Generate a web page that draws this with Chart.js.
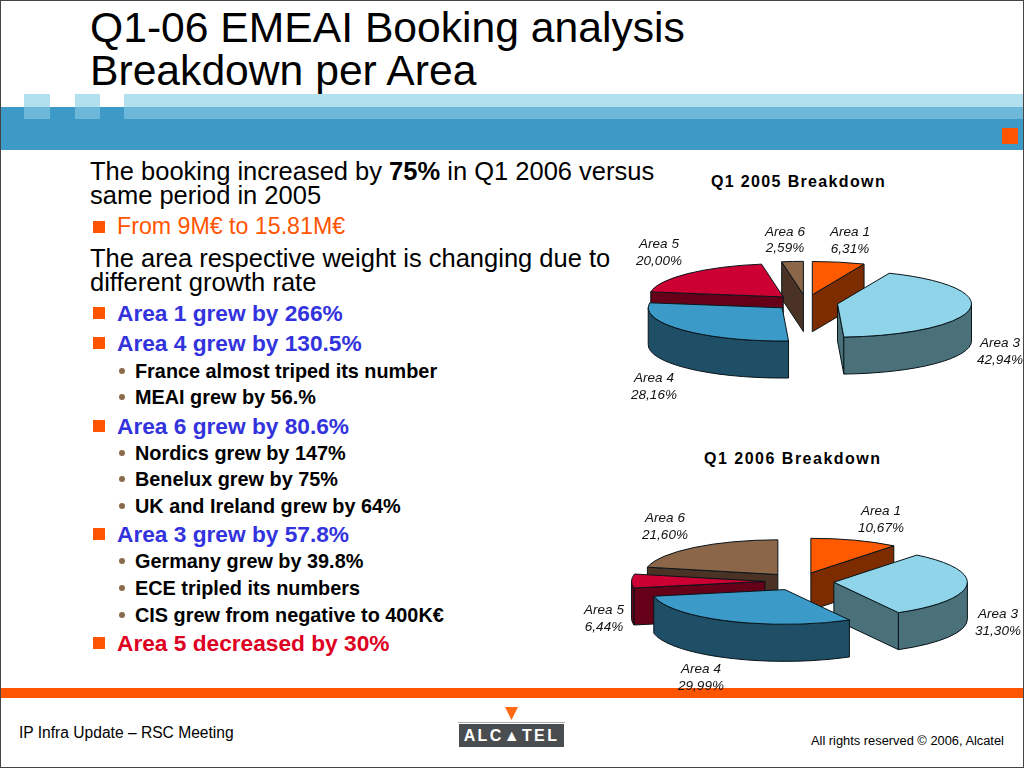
<!DOCTYPE html>
<html><head><meta charset="utf-8">
<script src="https://cdn.jsdelivr.net/npm/chart.js@4"></script>
<style>
html,body{margin:0;padding:0;background:#fff;width:1024px;height:768px;overflow:hidden;font-family:"Liberation Sans",Arial,sans-serif;}
#slide{position:relative;width:1024px;height:768px;overflow:hidden;}
.r{position:absolute;}
.t{position:absolute;white-space:nowrap;line-height:1;transform:translateY(-50%);color:#000;}
canvas{position:absolute;}
</style></head><body>
<div id="slide">
<div class="r" style="left:0;top:107px;width:1024px;height:43px;background:#3d9ac6"></div>
<div class="r" style="left:24px;top:94px;width:26px;height:13px;background:#b3e0ee"></div>
<div class="r" style="left:75px;top:94px;width:25px;height:13px;background:#b3e0ee"></div>
<div class="r" style="left:124px;top:94px;width:900px;height:13px;background:#b3e0ee"></div>
<div class="r" style="left:24px;top:107px;width:26px;height:12px;background:#6db8d8"></div>
<div class="r" style="left:75px;top:107px;width:25px;height:12px;background:#6db8d8"></div>
<div class="r" style="left:124px;top:107px;width:900px;height:12px;background:#6db8d8"></div>
<div class="r" style="left:1002px;top:128px;width:16px;height:16px;background:#ff5500"></div>
<div class="r" style="left:0;top:688px;width:1024px;height:10px;background:#ff5500"></div>
<div class="r" style="left:0;top:0;width:1022px;height:766px;border:1px solid #444"></div>

<div class="t" style="left:90px;top:27px;font-size:42.65px">Q1-06 EMEAI Booking analysis</div>
<div class="t" style="left:90px;top:70px;font-size:42.65px">Breakdown per Area</div>

<div id="body"></div>

<div class="t" style="left:711px;top:182px;font-size:16px;font-weight:bold;letter-spacing:1.35px">Q1 2005 Breakdown</div>
<div class="t" style="left:704px;top:459px;font-size:16px;font-weight:bold;letter-spacing:1.5px">Q1 2006 Breakdown</div>

<div class="t" style="left:19px;top:733px;font-size:15.6px">IP Infra Update – RSC Meeting</div>
<div class="t" style="left:811px;top:741px;font-size:12.85px">All rights reserved © 2006, Alcatel</div>
<svg class="r" style="left:505px;top:707px" width="14" height="13"><polygon points="0,0 13,0 6.5,13" fill="#ff6a13"/></svg>
<div class="r" style="left:458px;top:722px;width:107px;height:1px;background:#aaa"></div>
<div class="r" style="left:459px;top:724px;width:105px;height:23px;background:#4a4d50;color:#fff;font-weight:bold;font-size:16px;letter-spacing:2.4px;line-height:24px;text-align:center;white-space:nowrap">ALC▲TEL</div>

<canvas id="pie2005" width="436" height="275" style="left:588px;top:165px;width:436px;height:275px"></canvas>
<canvas id="pie2006" width="449" height="243" style="left:575px;top:460px;width:449px;height:243px"></canvas>
</div>
<script>
// ---- data ----
const categories2005 = ['Area 1','Area 3','Area 4','Area 5','Area 6'];
const values2005 = [6.31, 42.94, 28.16, 20.00, 2.59];
const categories2006 = ['Area 1','Area 3','Area 4','Area 5','Area 6'];
const values2006 = [10.67, 31.30, 29.99, 6.44, 21.60];

// ---- style ----
const topColors = {'Area 1':'#ff5a00','Area 3':'#8fd4e8','Area 4':'#3b9ac8','Area 5':'#cc0033','Area 6':'#8c6648'};
const wallColors = {'Area 1':'#7d2c00','Area 3':'#4a717a','Area 4':'#1f4f66','Area 5':'#660019','Area 6':'#4a3324'};

// ---- slide body text ----
const bodyLines = [
 [90,172,25.5,'#000',400,'The booking increased by <b>75%</b> in Q1 2006 versus',0],
 [90,196,25.5,'#000',400,'same period in 2005',0],
 [117,227,23.2,'#ff5500',400,'From 9M€ to 15.81M€',1],
 [90,259,25.5,'#000',400,'The area respective weight is changing due to',0],
 [90,283,25.5,'#000',400,'different growth rate',0],
 [117,313,22.7,'#3333dd',700,'Area 1 grew by 266%',1],
 [117,343,22.7,'#3333dd',700,'Area 4 grew by 130.5%',1],
 [135,372,19.85,'#000',700,'France almost triped its number',2],
 [135,398,19.85,'#000',700,'MEAI grew by 56.%',2],
 [117,426,22.7,'#3333dd',700,'Area 6 grew by 80.6%',1],
 [135,454,19.85,'#000',700,'Nordics grew by 147%',2],
 [135,480,19.85,'#000',700,'Benelux grew by 75%',2],
 [135,507,19.85,'#000',700,'UK and Ireland grew by 64%',2],
 [117,534,22.7,'#3333dd',700,'Area 3 grew by 57.8%',1],
 [135,562,19.85,'#000',700,'Germany grew by 39.8%',2],
 [135,589,19.85,'#000',700,'ECE tripled its numbers',2],
 [135,616,19.85,'#000',700,'CIS grew from negative to 400K€',2],
 [117,643,22.7,'#dd0022',700,'Area 5 decreased by 30%',1]
];
const bodyEl = document.getElementById('body');
bodyLines.forEach(function(l){
  let html = '';
  if (l[6] === 1) html += '<div class="r" style="left:93px;top:'+(l[1]-6)+'px;width:12px;height:12px;background:#ff5500"></div>';
  if (l[6] === 2) html += '<div class="r" style="left:119px;top:'+(l[1]-4)+'px;width:6px;height:6px;border-radius:50%;background:#8a6a4a"></div>';
  html += '<div class="t" style="left:'+l[0]+'px;top:'+l[1]+'px;font-size:'+l[2]+'px;color:'+l[3]+';font-weight:'+l[4]+'">'+l[5]+'</div>';
  bodyEl.insertAdjacentHTML('beforeend', html);
});

// ---- exploded 3D pie drawn from the library's arc elements ----
const pie3d = {
  id:'pie3d',
  beforeDatasetsDraw(chart, args, opts){
    const ctx = chart.ctx, k = opts.squash, depth = opts.depth, E = opts.explode;
    const arcs = chart.getDatasetMeta(0).data;
    const labels = chart.data.labels;
    const vals = chart.data.datasets[0].data;
    const order = arcs.map(function(a,i){return i;}).sort(function(p,q){
      const mp=(arcs[p].startAngle+arcs[p].endAngle)/2, mq=(arcs[q].startAngle+arcs[q].endAngle)/2;
      return Math.sin(mp)-Math.sin(mq);
    });
    ctx.save();
    ctx.lineWidth = 1; ctx.lineJoin='round';
    ctx.strokeStyle = '#08141a';
    order.forEach(function(i){
      const a = arcs[i], s = a.startAngle, e = a.endAngle, R = a.outerRadius, m=(s+e)/2;
      const ry = R*k;
      const px = a.x + E*Math.cos(m), py = a.y + E*Math.sin(m)*k;
      const rim = function(t){return [px+R*Math.cos(t), py+ry*Math.sin(t)];};
      const wallColor = wallColors[labels[i]];
      // radial walls facing the viewer
      [[s,Math.cos(s)<-1e-6],[e,Math.cos(e)>1e-6]].forEach(function(w){
        if(!w[1]) return;
        const p = rim(w[0]);
        ctx.beginPath();
        ctx.moveTo(px,py); ctx.lineTo(p[0],p[1]); ctx.lineTo(p[0],p[1]+depth); ctx.lineTo(px,py+depth); ctx.closePath();
        ctx.fillStyle = wallColor; ctx.fill(); ctx.stroke();
      });
      // outer wall: part of the rim in front
      const a0 = Math.max(s,0), a1 = Math.min(e,Math.PI);
      if(a1>a0){
        ctx.beginPath();
        ctx.ellipse(px,py,R,ry,0,a0,a1,false);
        ctx.ellipse(px,py+depth,R,ry,0,a1,a0,true);
        ctx.closePath();
        ctx.fillStyle = wallColor; ctx.fill(); ctx.stroke();
      }
      // top face, by the library's arc element
      ctx.save();
      ctx.translate(px, py);
      ctx.scale(1,k);
      ctx.translate(-a.x,-a.y);
      a.draw(ctx, chart.chartArea);
      ctx.restore();
      ctx.beginPath();
      ctx.moveTo(px,py);
      ctx.ellipse(px,py,R,ry,0,s,e,false);
      ctx.closePath();
      ctx.stroke();
    });
    // value labels
    ctx.fillStyle='#111';
    ctx.font='italic 13.5px "Liberation Sans"';
    ctx.textAlign='center'; ctx.textBaseline='middle';
    labels.forEach(function(l,i){
      const p = opts.labelPos[i];
      ctx.fillText(l, p[0]-opts.left, p[1]+0.5-opts.top);
      ctx.fillText(vals[i].toFixed(2).replace('.',',')+'%', p[0]-opts.left, p[2]+0.5-opts.top);
    });
    ctx.restore();
    return false;
  }
};
Chart.register(pie3d);

function makePie(id, cats, vals, pieOpts){
  return new Chart(document.getElementById(id), {
    type:'pie',
    data:{labels:cats, datasets:[{data:vals, borderWidth:0, backgroundColor:cats.map(function(c){return topColors[c];})}]},
    options:{responsive:false, animation:false, radius:pieOpts.radius,
      plugins:{legend:{display:false}, title:{display:false}, tooltip:{enabled:false}, pie3d:pieOpts}}
  });
}
makePie('pie2005', categories2005, values2005, {radius:134, squash:0.248, depth:37, explode:32, left:588, top:165,
  labelPos:[[850,232,249],[1000,343,360],[654,378,395],[659,244,261],[785,232,248]]});
makePie('pie2006', categories2006, values2006, {radius:133.5, squash:0.26, depth:37, explode:34.5, left:575, top:460,
  labelPos:[[881,511,528],[998,614,631],[701,669,686],[604,610,627],[665,518,535]]});
</script>
</body></html>
